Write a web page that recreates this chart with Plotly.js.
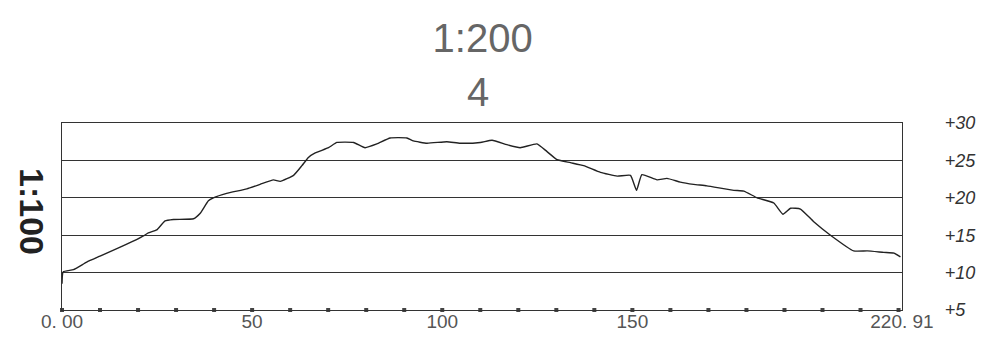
<!DOCTYPE html>
<html>
<head>
<meta charset="utf-8">
<script src="https://cdn.plot.ly/plotly-3.0.1.min.js"></script>
<style>html,body{margin:0;padding:0;background:#fff;}#chart{width:985px;height:338px;}</style>
</head>
<body>
<div id="chart"></div>
<script>
// Profile line (distance, elevation)
const distance = [0, 0.3, 3, 6.5, 10, 15.3, 19.6, 21.4, 22.7, 24.9, 27.1, 29.3, 34.6, 36.3, 38.5, 39.8, 43.3, 48.6, 52.1, 55.6, 57.4, 60.9, 63.1, 64.8, 66.6, 70.1, 72.3, 76.7, 79.7, 82.8, 86.3, 90.7, 92.4, 96.0, 101.2, 104.7, 110, 113.1, 117.0, 120.5, 124.9, 127.5, 130.2, 133.7, 137.2, 141.6, 146.0, 149.5, 151.1, 152.5, 156.5, 159.1, 162.6, 166.1, 169.6, 176.7, 179.3, 182.8, 187.2, 189.6, 191.6, 194.2, 197.7, 202.1, 208.2, 211.8, 216.1, 218.8, 220.5];
const elevation = [8.5, 10.1, 10.4, 11.4, 12.2, 13.4, 14.4, 14.9, 15.3, 15.7, 16.9, 17.1, 17.2, 17.9, 19.6, 20.0, 20.6, 21.2, 21.8, 22.4, 22.2, 23.0, 24.3, 25.4, 26.0, 26.7, 27.4, 27.4, 26.7, 27.2, 28.0, 28.0, 27.6, 27.3, 27.5, 27.3, 27.4, 27.7, 27.1, 26.7, 27.2, 26.2, 25.1, 24.7, 24.3, 23.4, 22.9, 23.0, 21.0, 23.1, 22.4, 22.6, 22.1, 21.8, 21.6, 21.0, 20.9, 20.0, 19.3, 17.8, 18.6, 18.5, 16.8, 15.0, 12.9, 12.9, 12.7, 12.6, 12.1];

// Station markers along the base line
const stationX = [0, 10, 20, 30, 40, 50, 60, 70, 80, 90, 100, 110, 120, 130, 140, 150, 160, 170, 180, 190, 200, 210, 220];
const stationY = stationX.map(() => 5);

// Tick labels
const xTickVals = [0, 50, 100, 150, 220.91];
const xTickText = ["0. 00", "50", "100", "150", "220. 91"];
const yTickVals = [5, 10, 15, 20, 25, 30];
const yTickText = ["+5", "+10", "+15", "+20", "+25", "+30"];

const titleText = "1:200";
const subTitle = "4";
const leftLabel = "1:100";

const traces = [
  {
    x: stationX, y: stationY, type: "scatter", mode: "markers",
    marker: {symbol: "square", size: 4, color: "#444"},
    cliponaxis: false, hoverinfo: "skip", showlegend: false
  },
  {
    x: distance, y: elevation, type: "scatter", mode: "lines",
    line: {color: "#222", width: 1.4, shape: "spline", smoothing: 0.4},
    showlegend: false
  }
];

const layout = {
  width: 985, height: 338,
  margin: {l: 62, r: 83, t: 123, b: 28},
  paper_bgcolor: "#fff", plot_bgcolor: "#fff",
  title: {
    text: titleText, x: 0.49, xanchor: "center", y: 1 - 38/338, yanchor: "middle",
    font: {family: "Liberation Sans, Arial, sans-serif", size: 40, color: "#666"}
  },
  xaxis: {
    range: [0, 220.91], showgrid: false, zeroline: false,
    showline: true, mirror: true, linecolor: "#333", linewidth: 1.2,
    tickmode: "array", tickvals: xTickVals, ticktext: xTickText,
    ticks: "", ticklabelstandoff: -6,
    tickfont: {family: "Liberation Sans, Arial, sans-serif", size: 19, color: "#555"}
  },
  yaxis: {
    range: [5, 30], side: "right", showgrid: true, gridcolor: "#333", gridwidth: 1.2,
    zeroline: false, showline: true, mirror: true, linecolor: "#333", linewidth: 1.2,
    tickmode: "array", tickvals: yTickVals, ticktext: yTickText,
    ticks: "", ticklabelstandoff: 38,
    tickfont: {family: "Liberation Sans, Arial, sans-serif", size: 18, color: "#333", style: "italic"}
  },
  annotations: [
    {
      text: subTitle, xref: "paper", yref: "paper", x: 0.495, y: (310 - 92) / 187,
      xanchor: "center", yanchor: "middle", showarrow: false,
      font: {family: "Liberation Sans, Arial, sans-serif", size: 40, color: "#666"}
    },
    {
      text: "<b>" + leftLabel + "</b>", xref: "paper", yref: "paper",
      x: (32 - 62) / 840, y: (310 - 211) / 187, xanchor: "center", yanchor: "middle",
      textangle: 90, showarrow: false,
      font: {family: "Liberation Sans, Arial, sans-serif", size: 34, color: "#222"}
    }
  ]
};

Plotly.newPlot("chart", traces, layout, {staticPlot: true, displayModeBar: false});
</script>
</body>
</html>
